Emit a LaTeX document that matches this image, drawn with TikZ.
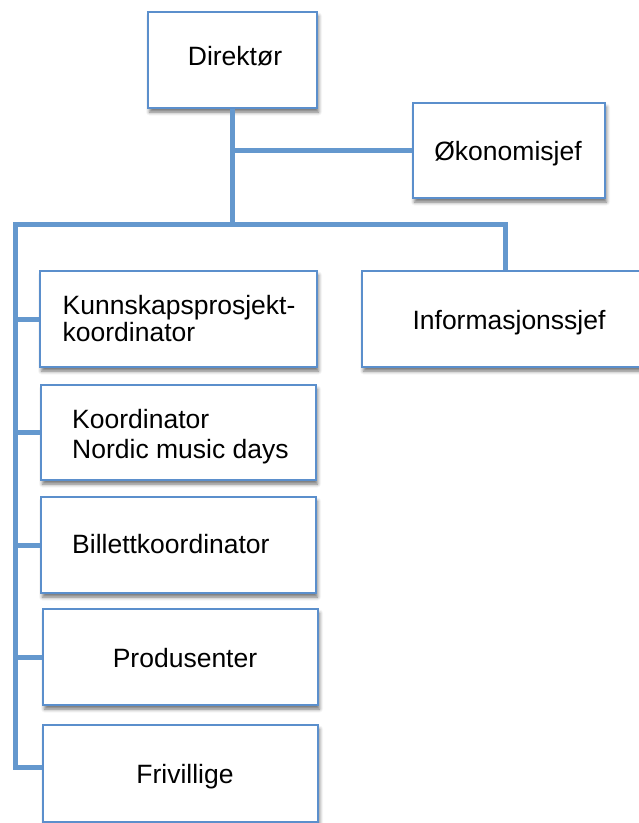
\documentclass[tikz,border=0pt]{standalone}
\usepackage{fontspec}
\setmainfont{Liberation Sans}
\usetikzlibrary{shadows.blur}
\definecolor{boxblue}{RGB}{91,143,204}
\definecolor{linkblue}{RGB}{100,152,206}
\tikzset{
  orgbox/.style={draw=boxblue, line width=2pt, fill=white, inner sep=0pt,
    blur shadow={shadow xshift=1.5pt, shadow yshift=-4pt, shadow blur radius=3.5pt, shadow opacity=55}},
  txt/.style={inner sep=0pt, font=\fontsize{26.5}{30}\selectfont, text=black},
  link/.style={draw=linkblue, line width=5pt, line join=miter}
}
\begin{document}
\begin{tikzpicture}[x=1pt,y=-1pt]
\useasboundingbox (0,0) rectangle (639,823);
% boxes
\node[orgbox, minimum width=169pt, minimum height=96pt] (dir) at (232.5,60) {};
\node[orgbox, minimum width=192pt, minimum height=95pt] (oko) at (509,150.5) {};
\node[orgbox, minimum width=293pt, minimum height=96pt] (info) at (508.5,319) {};
\node[orgbox, minimum width=277pt, minimum height=96pt] (kun) at (178.5,319) {};
\node[orgbox, minimum width=275pt, minimum height=95pt] (koo) at (178.5,432.5) {};
\node[orgbox, minimum width=275pt, minimum height=96pt] (bil) at (178.5,545) {};
\node[orgbox, minimum width=275pt, minimum height=96pt] (pro) at (180.5,657) {};
\node[orgbox, minimum width=275pt, minimum height=97pt] (fri) at (180.5,773.5) {};
% texts
\node[txt, anchor=base] (tdir) at (235,65) {Direktør};
\node[txt, anchor=base] (toko) at (508,160) {Økonomisjef};
\node[txt, anchor=base] (tinfo) at (509,329.3) {Informasjonssjef};
\node[txt, anchor=base west] (tkun1) at (62.5,314) {Kunnskapsprosjekt-};
\node[txt, anchor=base west] (tkun2) at (62.5,341.7) {koordinator};
\node[txt, anchor=base west] (tkoo1) at (72,428.3) {Koordinator};
\node[txt, anchor=base west] (tkoo2) at (72,458.3) {Nordic music days};
\node[txt, anchor=base west] (tbil) at (72,553.3) {Billettkoordinator};
\node[txt, anchor=base] (tpro) at (185,667.3) {Produsenter};
\node[txt, anchor=base] (tfri) at (185,783.3) {Frivillige};
% connector points
\coordinate (top) at (232.5,224.5);
\coordinate (L) at (15.5,224.5);
\coordinate (R) at (505,224.5);
\coordinate (Lend) at (15.5,767);
% connectors
\draw[link] (dir.south) -- (top);
\draw[link] (dir.south |- oko.west) -- (oko.west);
\draw[link] (Lend -| fri.west) -- (Lend) -- (L) -- (R) -- (R |- info.north);
\draw[link] (L |- kun.west) -- (kun.west);
\draw[link] (L |- koo.west) -- (koo.west);
\draw[link] (L |- bil.west) -- (bil.west);
\draw[link] (L |- pro.west) -- (pro.west);
\end{tikzpicture}
\end{document}
